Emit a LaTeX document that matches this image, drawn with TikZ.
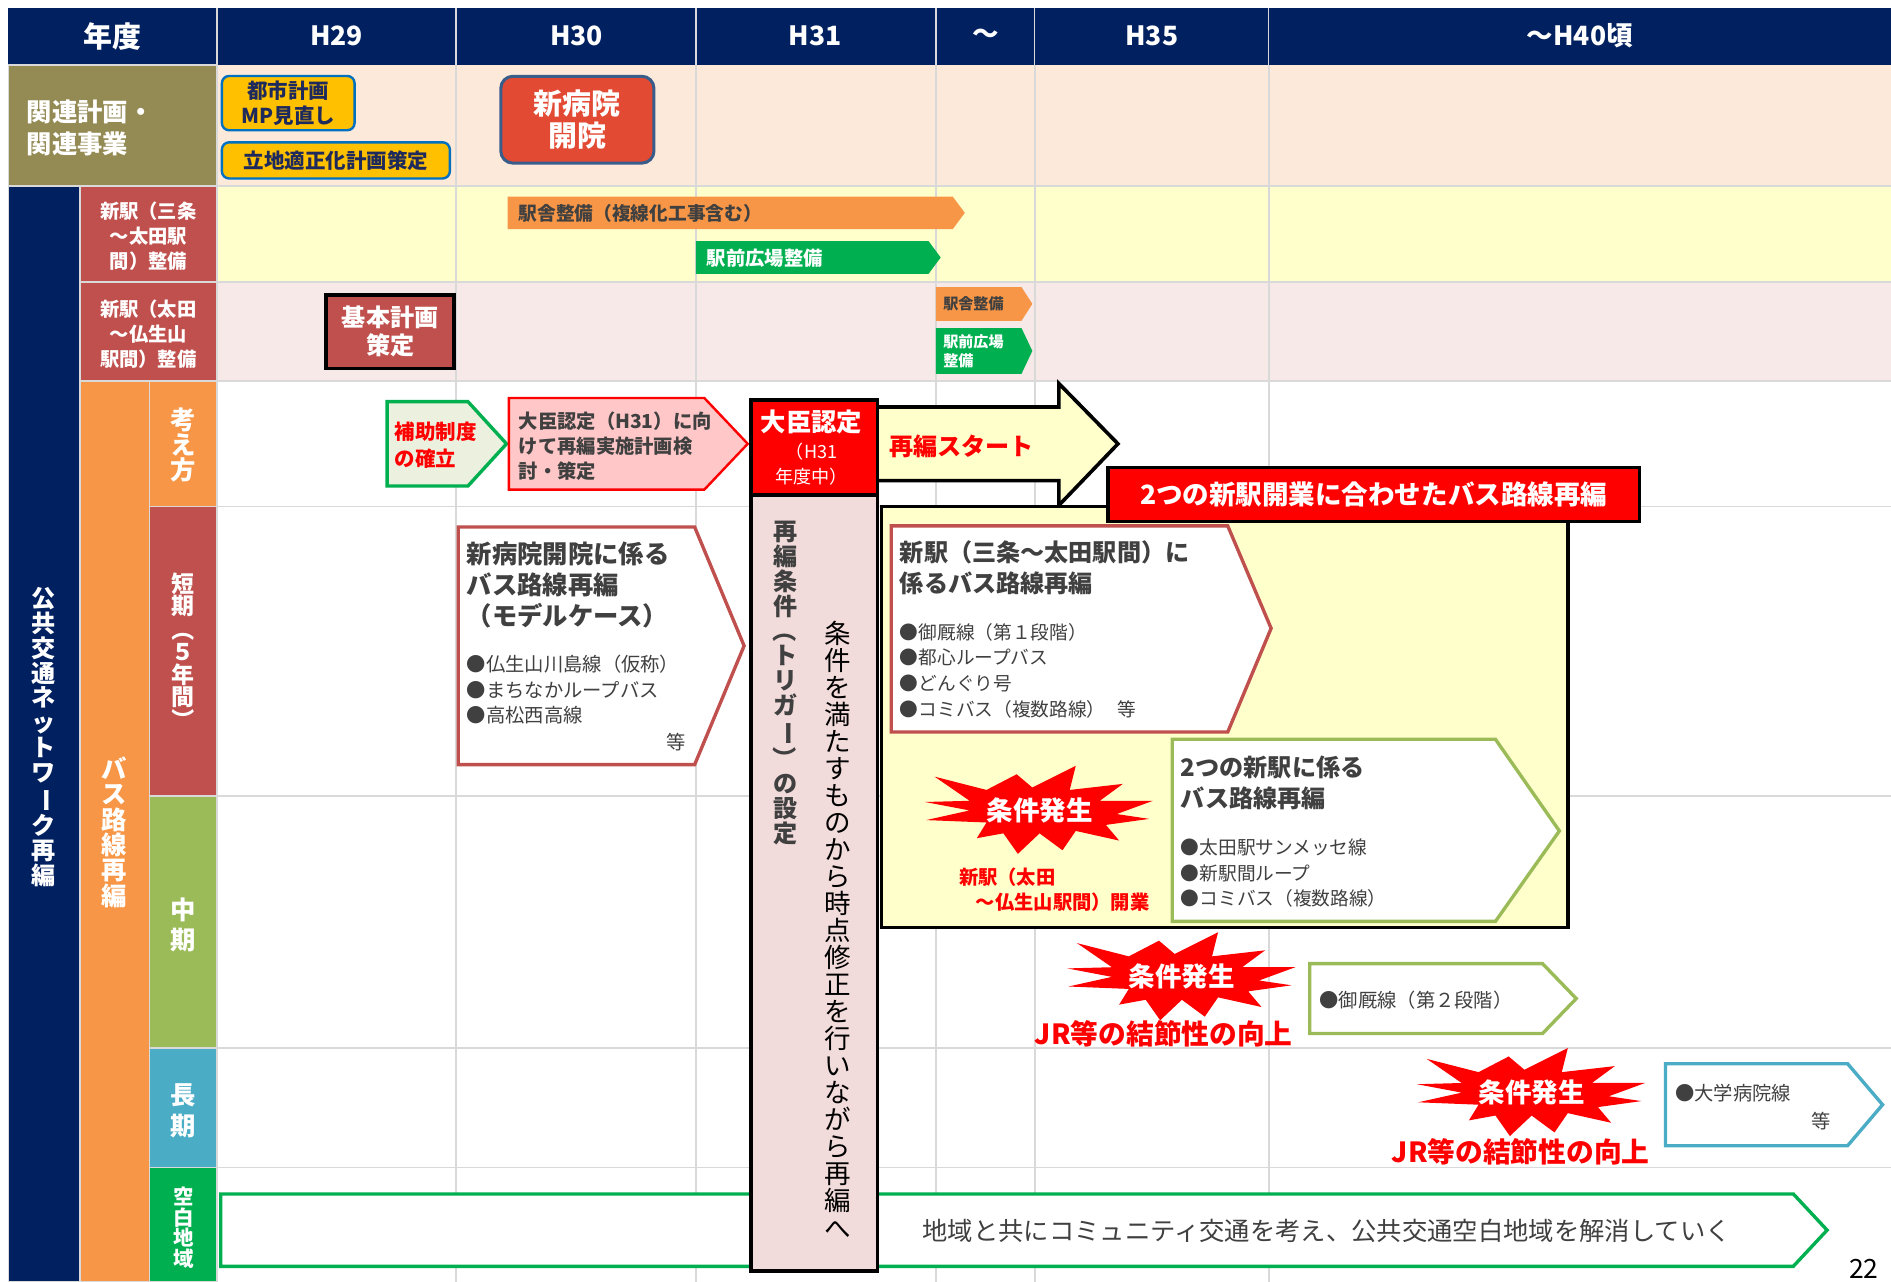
\documentclass[tikz,border=0pt]{standalone}
\usepackage{fontspec}
\usepackage{graphicx}
\setmainfont{Noto Sans CJK JP}
\newcommand\fz[2]{\fontsize{#1}{#2}\selectfont}
\newcommand\vrot[1]{\rotatebox[origin=c]{-90}{#1}}
\definecolor{cNavy}{RGB}{0,32,96}
\definecolor{gridgray}{RGB}{217,217,217}
\definecolor{cOlive}{RGB}{148,138,84}
\definecolor{cPeach}{RGB}{253,233,217}
\definecolor{cLYellow}{RGB}{255,255,204}
\definecolor{cLPink}{RGB}{246,233,232}
\definecolor{cBrick}{RGB}{192,80,77}
\definecolor{cOrange}{RGB}{247,150,70}
\definecolor{cLGreen}{RGB}{155,187,89}
\definecolor{cSky}{RGB}{75,172,198}
\definecolor{cBGreen}{RGB}{0,176,80}
\definecolor{cPinkBox}{RGB}{242,220,219}
\definecolor{cSalmon}{RGB}{255,199,199}
\definecolor{cPaleGreen}{RGB}{235,241,222}
\definecolor{cGold}{RGB}{255,192,0}
\definecolor{cABlue}{RGB}{0,112,192}
\definecolor{cHosp}{RGB}{226,74,51}
\definecolor{cSteel}{RGB}{56,93,138}
\definecolor{cDGray}{RGB}{64,64,64}
\definecolor{cTNavy}{RGB}{31,42,92}
\tikzset{
  burst/.pic={\fill[red] (-95,-7) -- (-58,-8) -- (-87,-28) -- (-44,-17) -- (-19,-30) -- (-6,-19) -- (30,-37) -- (25,-17) -- (69,-22) -- (50,-8) -- (94,-8) -- (64,3) -- (91,7) -- (55,12) -- (66,25) -- (30,17) -- (19,33) -- (0,19) -- (-18,36) -- (-30,19) -- (-52,23) -- (-44,10) -- (-94,8) -- (-58,0) -- cycle;}
}
\begin{document}
\begin{tikzpicture}[x=1pt,y=-1pt,
  every node/.style={inner sep=0pt},
  cell/.style={draw=gridgray,line width=1.5pt},
  lbl/.style={text=white},
  pent/.style={line width=2.8pt, fill=white, line join=miter},
  vstack/.style={align=center},
  txt/.style={text=cDGray, anchor=west, align=left}]
\useasboundingbox (0,0) rectangle (1568,1063);
\fill[white] (0,0) rectangle (1568,1063);

% row backgrounds
\fill[cPeach] (180,54) rectangle (1568,154);
\fill[cLYellow] (180,154) rectangle (1568,234);
\fill[cLPink] (180,234) rectangle (1568,316);
\foreach \x in {378,577,776,858,1052} \draw[gridgray,line width=1.5pt] (\x,54) -- (\x,1063);
\foreach \y in {154,234,316,420,660,869,968} \draw[gridgray,line width=1.5pt] (180,\y) -- (1568,\y);

% header
\fill[cNavy] (7,7) rectangle (1568,54);
\foreach \x in {180,378,577,776,858,1052} \draw[gridgray,line width=1.2pt] (\x,7) -- (\x,54);
\node[lbl, font=\bfseries\fz{24}{24}] (hNendo) at (93,30) {年度};
\node[lbl, font=\bfseries\fz{22}{22}] (hA) at (279,30) {H29};
\node[lbl, font=\bfseries\fz{22}{22}] (hB) at (478,30) {H30};
\node[lbl, font=\bfseries\fz{22}{22}] (hC) at (676,30) {H31};
\node[lbl, font=\bfseries\fz{22}{22}] (hD) at (817,30) {～};
\node[lbl, font=\bfseries\fz{22}{22}] (hE) at (955,30) {H35};
\node[lbl, font=\bfseries\fz{22}{22}] (hF) at (1310,30) {～H40頃};

% left labels
\path[cell, fill=cOlive] (7,54) rectangle (180,154);
\node[lbl, anchor=west, align=left, font=\bfseries\fz{21}{26}] (kanren) at (22,106) {関連計画・\\関連事業};
\path[cell, fill=cNavy] (7,154) rectangle (66,1063);
\node[lbl, vstack, font=\bfseries\fz{20}{20.7}] (kokyo) at (36,611) {公\\共\\交\\通\\ネ\\ッ\\ト\\ワ\\\vrot{ー}\\ク\\再\\編};
\path[cell, fill=cBrick] (66,154) rectangle (180,234);
\node[lbl, align=center, font=\bfseries\fz{16}{20.5}] (eki1lbl) at (123,196) {新駅（三条\\～太田駅\\間）整備};
\path[cell, fill=cBrick] (66,234) rectangle (180,316);
\node[lbl, align=center, font=\bfseries\fz{16}{21}] (eki2lbl) at (123,277) {新駅（太田\\～仏生山\\駅間）整備};
\path[cell, fill=cOrange] (66,316) rectangle (124,1063);
\node[lbl, vstack, font=\bfseries\fz{21}{21}] (buslbl) at (95,690) {バ\\ス\\路\\線\\再\\編};
\path[cell, fill=cOrange] (124,316) rectangle (180,420);
\node[lbl, vstack, font=\bfseries\fz{21}{21}] (kangae) at (152,369) {考\\え\\方};
\path[cell, fill=cBrick] (124,420) rectangle (180,660);
\node[lbl, vstack, font=\bfseries\fz{19}{18.5}] (tanki) at (152,541) {短\\期\\\vrot{（}\\５\\年\\間\\\vrot{）}};
\path[cell, fill=cLGreen] (124,660) rectangle (180,869);
\node[lbl, vstack, font=\bfseries\fz{21}{25}] (chuki) at (152,767) {中\\期};
\path[cell, fill=cSky] (124,869) rectangle (180,968);
\node[lbl, vstack, font=\bfseries\fz{21}{25}] (choki) at (152,921) {長\\期};
\path[cell, fill=cBGreen] (124,968) rectangle (180,1063);
\node[lbl, vstack, font=\bfseries\fz{17}{17}] (kuhaku) at (152,1018) {空\\白\\地\\域};

% related plans
\node[draw=cABlue, fill=cGold, line width=2pt, rounded corners=6pt, minimum width=110pt, minimum height=45pt, anchor=north west, align=center, text=cTNavy, font=\bfseries\fz{17}{21}] (toshi) at (183,62) {都市計画\\MP見直し};
\node[draw=cABlue, fill=cGold, line width=2pt, rounded corners=6pt, minimum width=189pt, minimum height=30pt, anchor=north west, text=cTNavy, font=\bfseries\fz{17}{17}] (ritchi) at (183,117) {立地適正化計画策定};
\node[draw=cSteel, fill=cHosp, line width=2.5pt, rounded corners=10pt, minimum width=127pt, minimum height=72pt, anchor=north west, align=center, text=white, font=\bfseries\fz{24}{27}] (byoin) at (414,62) {新病院\\開院};

% station rows
\fill[cOrange] (421,163) -- (790,163) -- (800,176.5) -- (790,190) -- (421,190) -- cycle;
\node[txt, font=\bfseries\fz{15.5}{16}] (ekisha1) at (430,177) {駅舎整備（複線化工事含む）};
\fill[cBGreen] (577,200) -- (770,200) -- (780,213.5) -- (770,227) -- (577,227) -- cycle;
\node[anchor=west, text=white, font=\bfseries\fz{16}{16}] (ekimae1) at (586,214) {駅前広場整備};
\node[draw=black, line width=3pt, fill=cBrick, minimum width=106pt, minimum height=61pt, anchor=north west, align=center, text=white, font=\bfseries\fz{20}{23}] (kihon) at (269,243) {基本計画\\策定};
\fill[cOrange] (776,238) -- (847,238) -- (856,252) -- (847,266) -- (776,266) -- cycle;
\node[txt, font=\bfseries\fz{12.5}{13}] (ekisha2) at (782,252) {駅舎整備};
\fill[cBGreen] (776,272) -- (847,272) -- (856,291) -- (847,310) -- (776,310) -- cycle;
\node[anchor=west, align=left, text=white, font=\bfseries\fz{12.5}{16}] (ekimae2) at (782,291) {駅前広場\\整備};

% kangaekata row
\draw[pent, draw=cBGreen, fill=cPaleGreen] (321,333) -- (388,333) -- (420,368) -- (388,403) -- (321,403) -- cycle;
\node[anchor=west, align=left, text=red, font=\bfseries\fz{17}{22}] (hojo) at (327,369) {補助制度\\の確立};
\draw[pent, draw=red, line width=2pt, fill=cSalmon] (422,330) -- (584,330) -- (620,368) -- (584,406) -- (422,406) -- cycle;
\node[txt, font=\bfseries\fz{16}{21}] (taijin1) at (430,370) {大臣認定（H31）に向\\けて再編実施計画検\\討・策定};

% blank area arrow
\draw[pent, draw=cBGreen] (183,990) -- (1487,990) -- (1515,1020) -- (1487,1050) -- (183,1050) -- cycle;
\node[text=cDGray, font=\fz{21}{21}] (kuhakuT) at (1100,1021) {地域と共にコミュニティ交通を考え、公共交通空白地域を解消していく};

% restart arrow
\draw[line width=3pt, fill=cLYellow, line join=miter] (722,337.5) -- (878,337.5) -- (878,318) -- (927,368) -- (878,419) -- (878,398.5) -- (722,398.5) -- cycle;
\node[anchor=west, text=red, font=\bfseries\fz{20}{20}] (start) at (737,370) {再編スタート};

% yellow box and title
\draw[line width=3pt, fill=cLYellow] (731,420) rectangle (1300,769);
\node[draw=black, line width=3pt, fill=red, minimum width=441pt, minimum height=45pt, anchor=north west, text=white, font=\bfseries\fz{22}{22}] (awase) at (917,386) {2つの新駅開業に合わせたバス路線再編};

% minister box and trigger column
\node[draw=black, line width=3.2pt, fill=red, minimum width=105pt, minimum height=79pt, anchor=north west] (nintei) at (621,330) {};
\node[text=white, font=\bfseries\fz{21}{21}] (ninteiT) at (673,350) {大臣認定};
\node[text=white, align=center, font=\fz{15}{21}] (ninteiS) at (673,385) {（H31\\年度中）};
\node[draw=black, line width=3.2pt, fill=cPinkBox, minimum width=105pt, minimum height=643pt, anchor=north west] (joken) at (621,409) {};
\node[vstack, anchor=north, text=cDGray, font=\bfseries\fz{20}{20.6}] (jokenA) at (651,432) {再\\編\\条\\件\\\vrot{（}\\ト\\リ\\ガ\\\vrot{ー}\\\vrot{）}\\の\\設\\定};
\node[vstack, anchor=north, text=black, font=\fz{22}{22.4}] (jokenB) at (695,515) {条\\件\\を\\満\\た\\す\\も\\の\\か\\ら\\時\\点\\修\\正\\を\\行\\い\\な\\が\\ら\\再\\編\\へ};

% model case
\draw[pent, draw=cBrick] (380,437) -- (576,437) -- (617,535.5) -- (576,634) -- (380,634) -- cycle;
\node[txt, font=\bfseries\fz{21}{26}] (modelT) at (387,485) {新病院開院に係る\\バス路線再編\\（モデルケース）};
\node[txt, font=\fz{16}{21}] (modelB) at (387,572) {●仏生山川島線（仮称）\\●まちなかループバス\\●高松西高線};
\node[text=cDGray, font=\fz{16}{16}] (modelE) at (561,615) {等};

% sanjo-ota
\draw[pent, draw=cBrick] (739,436) -- (1018,436) -- (1054,521) -- (1018,607) -- (739,607) -- cycle;
\node[txt, font=\bfseries\fz{20}{26}] (sanjoT) at (746,471) {新駅（三条～太田駅間）に\\係るバス路線再編};
\node[txt, font=\fz{15.5}{21.3}] (sanjoB) at (746,556) {●御厩線（第１段階）\\●都心ループバス\\●どんぐり号\\●コミバス（複数路線）\hspace{10pt}等};

% burst 1
\pic at (862,672) {burst};
\node[text=white, font=\bfseries\fz{22}{22}] (hassei1) at (862,672) {条件発生};
\node[anchor=west, align=left, text=red, font=\bfseries\fz{16}{21}] (kaigyo) at (795,737.5) {新駅（太田\\\hspace{14pt}～仏生山駅間）開業};

% two stations
\draw[pent, draw=cLGreen] (972,613) -- (1240,613) -- (1293,689) -- (1240,764) -- (972,764) -- cycle;
\node[txt, font=\bfseries\fz{20}{26}] (twoT) at (979,649) {2つの新駅に係る\\バス路線再編};
\node[txt, font=\fz{15.5}{21}] (twoB) at (979,724) {●太田駅サンメッセ線\\●新駅間ループ\\●コミバス（複数路線）};

% burst 2
\pic at (980,810) {burst};
\node[text=white, font=\bfseries\fz{22}{22}] (hassei2) at (980,810) {条件発生};
\node[text=red, font=\bfseries\fz{23}{23}] (jr1) at (965,857) {JR等の結節性の向上};
\draw[pent, draw=cLGreen] (1086,799) -- (1279,799) -- (1307,828) -- (1279,857) -- (1086,857) -- cycle;
\node[txt, font=\fz{16}{16}] (mimaya2) at (1094,829) {●御厩線（第２段階）};

% burst 3
\pic at (1270,906) {burst};
\node[text=white, font=\bfseries\fz{22}{22}] (hassei3) at (1270,906) {条件発生};
\node[text=red, font=\bfseries\fz{23}{23}] (jr2) at (1261,955) {JR等の結節性の向上};
\draw[pent, draw=cSky] (1381,882) -- (1532,882) -- (1561,916) -- (1532,950) -- (1381,950) -- cycle;
\node[txt, font=\fz{16}{16}] (daigaku) at (1389,906) {●大学病院線};
\node[text=cDGray, font=\fz{16}{16}] (daigakuE) at (1510,930) {等};

% page number
\node[anchor=north west, text=black, font=\fz{22}{22}] (page) at (1533,1044) {22};
\end{tikzpicture}
\end{document}
